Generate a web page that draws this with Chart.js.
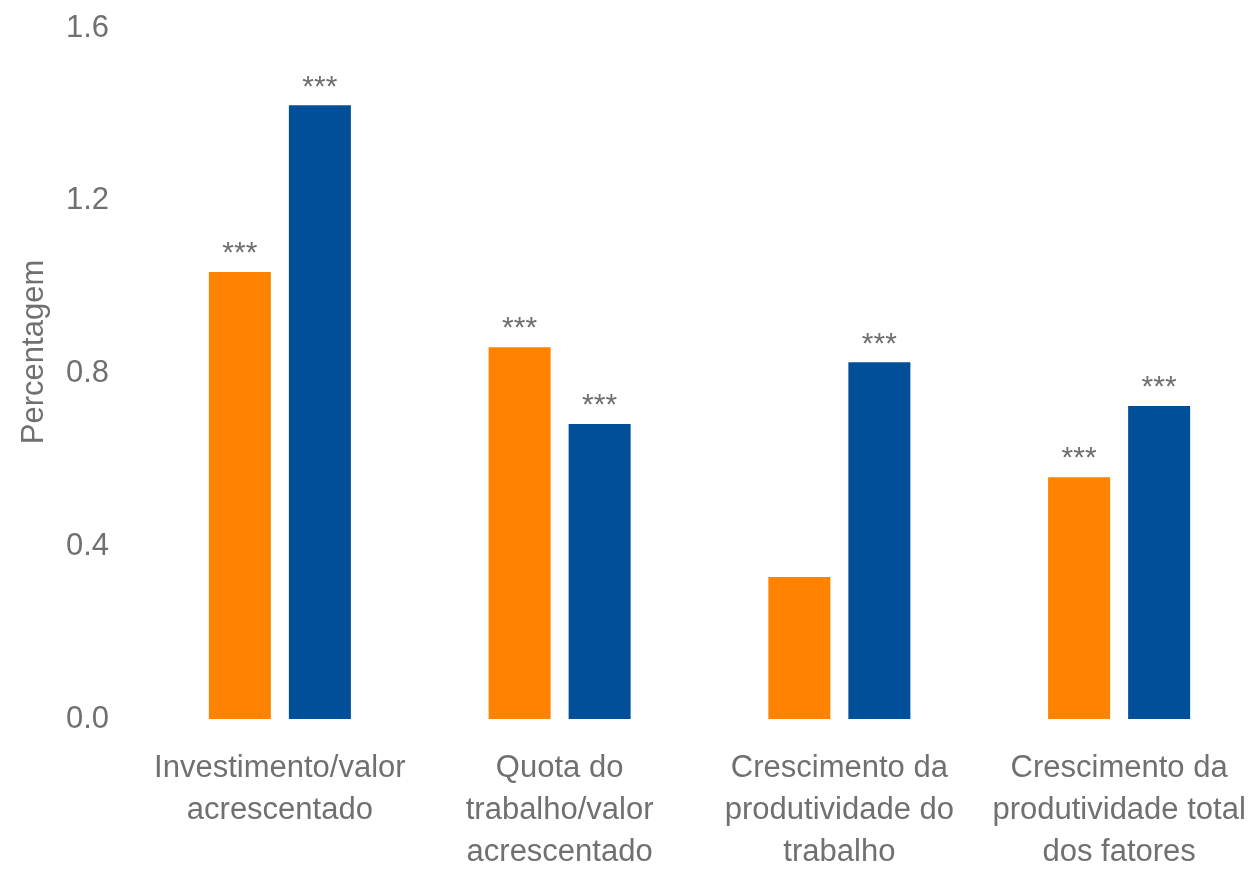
<!DOCTYPE html>
<html>
<head>
<meta charset="utf-8">
<script src="https://cdn.jsdelivr.net/npm/chart.js@4.4.1/dist/chart.umd.min.js"></script>
<style>
  html, body { margin: 0; padding: 0; background: #fff; overflow: hidden; }
  canvas { display: block; }
</style>
</head>
<body>
<canvas id="chart" width="1259" height="872" style="width:1259px;height:872px"></canvas>
<script>
const categories = [
    ['Investimento/valor', 'acrescentado'],
    ['Quota do', 'trabalho/valor', 'acrescentado'],
    ['Crescimento da', 'produtividade do', 'trabalho'],
    ['Crescimento da', 'produtividade total', 'dos fatores']
];
const orangeValues = [1.035, 0.861, 0.329, 0.560];
const blueValues = [1.421, 0.683, 0.826, 0.725];
const orangeStars = ['***', '***', '', '***'];
const blueStars = ['***', '***', '***', '***'];
const yTicks = [0, 0.4, 0.8, 1.2, 1.6];

const fontFamily = '"Liberation Sans Narrow", "Arial Narrow", "Liberation Sans", sans-serif';
const grey = '#707070';

// draws the significance stars above each bar
const starsPlugin = {
    id: 'stars',
    afterDatasetsDraw(chart) {
        const ctx = chart.ctx;
        ctx.save();
        ctx.fillStyle = grey;
        ctx.font = '30px ' + fontFamily;
        ctx.textAlign = 'center';
        ctx.textBaseline = 'bottom';
        chart.data.datasets.forEach((ds, i) => {
            const meta = chart.getDatasetMeta(i);
            meta.data.forEach((bar, j) => {
                const s = ds.stars[j];
                if (s) ctx.fillText(s, bar.x, bar.y - 3);
            });
        });
        ctx.restore();
    }
};

new Chart(document.getElementById('chart'), {
    type: 'bar',
    data: {
        labels: categories,
        datasets: [
            {
                label: 'A',
                data: orangeValues,
                stars: orangeStars,
                backgroundColor: '#FF8200',
                categoryPercentage: 0.572,
                barPercentage: 0.775
            },
            {
                label: 'B',
                data: blueValues,
                stars: blueStars,
                backgroundColor: '#004F98',
                categoryPercentage: 0.572,
                barPercentage: 0.775
            }
        ]
    },
    options: {
        responsive: false,
        devicePixelRatio: 1,
        animation: false,
        layout: { padding: { top: 28, right: 0, bottom: 0, left: 0 } },
        plugins: {
            legend: { display: false },
            tooltip: { enabled: false }
        },
        scales: {
            x: {
                grid: { display: false, drawTicks: false },
                border: { display: false },
                ticks: {
                    color: grey,
                    font: { family: fontFamily, size: 31, lineHeight: 1.35 },
                    padding: 29,
                    maxRotation: 0,
                    autoSkip: false
                },
                afterFit: s => { s.height = 153; s.paddingLeft = 0; s.paddingRight = 0; }
            },
            y: {
                min: 0,
                max: 1.6,
                afterBuildTicks: axis => { axis.ticks = yTicks.map(v => ({ value: v })); },
                grid: { display: false, drawTicks: false },
                border: { display: false },
                ticks: {
                    color: grey,
                    font: { family: fontFamily, size: 31 },
                    padding: 31,
                    callback: v => v.toFixed(1)
                },
                title: {
                    display: true,
                    // leading spaces lift the title a little above the axis centre
                    text: '     Percentagem',
                    color: grey,
                    font: { family: fontFamily, size: 31 },
                    padding: { top: 16, bottom: -16 }
                },
                afterFit: s => { s.width = 140; s.paddingTop = 0; s.paddingBottom = 0; }
            }
        }
    },
    plugins: [starsPlugin]
});
</script>
</body>
</html>
